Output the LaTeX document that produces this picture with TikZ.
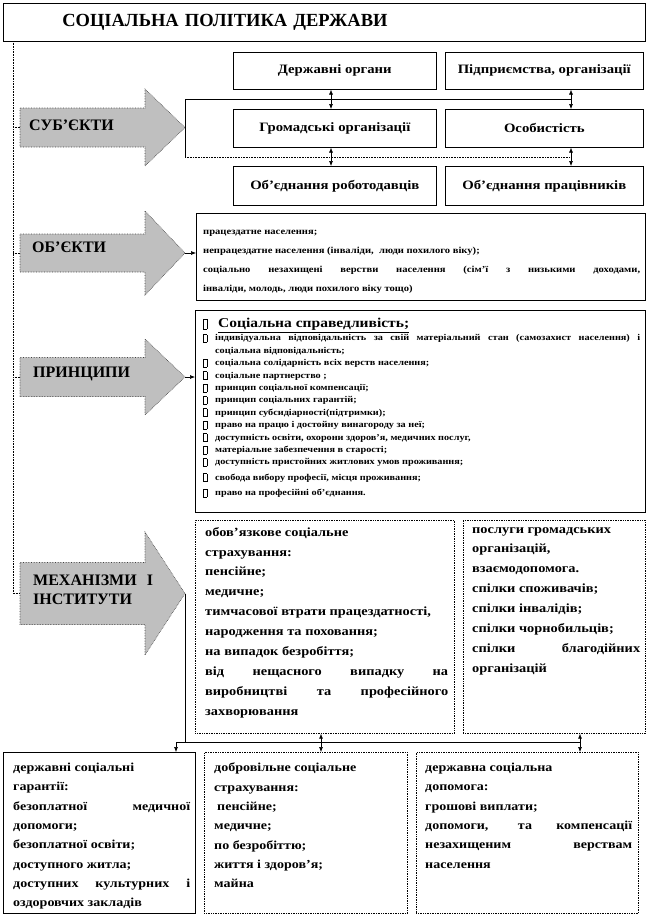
\documentclass[tikz,border=0pt]{standalone}
\usepackage{fontspec}
\setmainfont{Liberation Serif}[FakeStretch=1.15]
\newfontfamily\plainserif{Liberation Serif}
\usetikzlibrary{positioning, arrows.meta, calc}

\newcommand\bx[1][7pt]{\raisebox{-1pt}{\setlength\fboxsep{0pt}\setlength\fboxrule{0.9pt}\fbox{\rule{0pt}{#1}\hspace{2.4pt}}}}
\newcommand\pitem[1]{\par\noindent\hangindent=12pt\hangafter=1\makebox[12pt][l]{\bx}#1}

\begin{document}
\begin{tikzpicture}[
    x=1pt, y=-1pt,
    frame/.style={draw, line width=0.6pt, inner sep=0pt, anchor=north west},
    dotframe/.style={draw, densely dotted, line width=0.7pt, inner sep=0pt, anchor=north west},
    subjbox/.style={draw, line width=0.6pt, anchor=north west, inner sep=0pt,
                    font=\fontsize{12.8}{14}\selectfont\bfseries},
    bigarrow/.style={fill=black!25, draw=black!75, densely dotted, line width=0.6pt},
    alabel/.style={anchor=west, align=left, inner sep=0pt, font=\plainserif\fontsize{16}{19}\selectfont\bfseries},
    txt/.style={anchor=north west, inner sep=0pt, align=justify,
                font=\fontsize{12.5}{19.9}\selectfont\bfseries},
    arr/.style={-{Latex[length=5pt, width=4pt]}, line width=0.6pt},
    dbl/.style={{Latex[length=5pt, width=4pt]}-{Latex[length=5pt, width=4pt]}, line width=0.6pt},
    spine/.style={densely dotted, line width=0.6pt},
  ]
  \useasboundingbox (0,0) rectangle (649,918);

  % ── Title ──
  \node[draw, line width=0.6pt, anchor=north west, inner xsep=59pt, inner ysep=0pt,
        text width=524pt, minimum height=38pt, align=left,
        font=\plainserif\fontsize{18.5}{20}\selectfont\bfseries] (title) at (3,3) {СОЦІАЛЬНА ПОЛІТИКА ДЕРЖАВИ};

  % ── Block arrows ──
  \foreach \nm/\yc/\bh/\hh in {sub/127.5/19.5/38.5, obj/253/19/42, prn/377/19.5/38, mech/593.5/31/61.5}{
    \draw[bigarrow] (20,\yc-\bh) -- (145,\yc-\bh) -- (145,\yc-\hh) -- (185,\yc)
      -- (145,\yc+\hh) -- (145,\yc+\bh) -- (20,\yc+\bh) -- cycle;
    \coordinate (\nm-tip) at (185,\yc);
    \coordinate (\nm-tail) at (20,\yc);
  }
  \node[alabel] (sub) at (29,125.5) {СУБ’ЄКТИ};
  \node[alabel] (obj) at (32,247) {ОБ’ЄКТИ};
  \node[alabel] (prn) at (33,374) {ПРИНЦИПИ};
  \node[alabel] (mech) at (33,590) {МЕХАНІЗМИ\hspace{10pt}І\\ІНСТИТУТИ};

  % ── Spine ──
  \coordinate (spine) at (13,41);
  \draw[spine] (spine) |- (mech-tail);
  \foreach \nm in {sub,obj,prn}
    \draw[spine] (spine |- \nm-tail) -- (\nm-tail);

  % ── Subjects ──
  \node[subjbox, minimum width=203pt, minimum height=37pt] (gov) at (233,52) {Державні органи};
  \node[subjbox, minimum width=198pt, minimum height=37pt] (firm) at (445,52) {Підприємства, організації};
  \node[subjbox, minimum width=203pt, minimum height=38pt] (civ) at (233,109) {Громадські організації};
  \node[subjbox, minimum width=198pt, minimum height=38pt] (pers) at (445,109) {Особистість};
  \node[subjbox, minimum width=203pt, minimum height=39pt] (empl) at (233,166) {Об'єднання роботодавців};
  \node[subjbox, minimum width=198pt, minimum height=39pt] (work) at (445,166) {Об'єднання працівників};

  \coordinate (fr-tl) at (185,99);
  \coordinate (fr-bl) at (185,157);
  \coordinate (colA) at (331,0);
  \coordinate (colB) at (571,0);
  \draw[line width=0.6pt] (fr-tl -| colB) -- (fr-tl) -- (fr-bl);
  \draw[spine] (fr-bl) -- (fr-bl -| colB);

  \draw[dbl] (gov.south -| colA) -- (civ.north -| colA);
  \draw[dbl] (firm.south -| colB) -- (pers.north -| colB);
  \draw[dbl] (civ.south -| colA) -- (empl.north -| colA);
  \draw[dbl] (pers.south -| colB) -- (work.north -| colB);

  % ── Objects ──
  \node[frame, minimum width=449pt, minimum height=87pt] (objbox) at (196,213) {};
  \node[txt, text width=437pt, font=\fontsize{9.2}{19}\selectfont\bfseries] (objtxt) at (203,229.5)
    {працездатне населення;\\
     непрацездатне населення (інваліди,~ люди похилого віку);\\
     соціально незахищені верстви населення (сім'ї з низькими доходами,\linebreak
     інваліди, молодь, люди похилого віку тощо)};
  \draw[arr] (obj-tip) -- (obj-tip -| objbox.west);

  % ── Principles ──
  \node[frame, minimum width=450pt, minimum height=202pt] (prnbox) at (195,310) {};
  \node[txt, text width=437pt, font=\fontsize{8.9}{12.4}\selectfont\bfseries] (prntxt) at (203,318)
    {\noindent\makebox[15pt][l]{\bx[9pt]}{\fontsize{13.5}{15}\selectfont\underline{Соціальна справедливість;}}\par\vspace{1pt}
     \pitem{індивідуальна відповідальність за свій матеріальний стан (самозахист населення) і\linebreak соціальна відповідальність;}
     \pitem{соціальна солідарність всіх верств населення;}
     \pitem{соціальне партнерство ;}
     \pitem{принцип соціальної компенсації;}
     \pitem{принцип соціальних гарантій;}
     \pitem{принцип субсидіарності(підтримки);}
     \pitem{право на працю і достойну винагороду за неї;}
     \pitem{доступність освіти, охорони здоров'я, медичних послуг,}
     \pitem{матеріальне забезпечення в старості;}
     \pitem{доступність пристойних житлових умов проживання;}
     \par\vspace{3pt}\pitem{свобода вибору професії, місця проживання;}
     \par\vspace{3pt}\pitem{право на професійні об'єднання.}};
  \draw[arr] (prn-tip) -- (prn-tip -| prnbox.west);

  % ── Mechanisms ──
  \node[dotframe, minimum width=259pt, minimum height=213pt] (mechL) at (195,520) {};
  \node[dotframe, minimum width=182pt, minimum height=213pt] (mechR) at (463,520) {};
  \node[txt, text width=243pt] (mechLtxt) at (205,527)
    {обов'язкове соціальне\\
     страхування:\\
     пенсійне;\\
     медичне;\\
     тимчасової втрати працездатності,\\
     народження та поховання;\\
     на випадок безробіття;\\
     від нещасного випадку на\linebreak виробництві та професійного\linebreak захворювання};
  \node[txt, text width=168pt] (mechRtxt) at (472,527)
    {послуги громадських\\
     організацій,\\
     взаємодопомога.\\
     спілки споживачів;\\
     спілки інвалідів;\\
     спілки чорнобильців;\\
     спілки благодійних\linebreak організацій};

  % ── Bottom row ──
  \node[frame, minimum width=192pt, minimum height=161pt] (g1) at (3,752) {};
  \node[dotframe, minimum width=203pt, minimum height=161pt] (g2) at (204,752) {};
  \node[dotframe, minimum width=222pt, minimum height=161pt] (g3) at (416,752) {};
  \node[txt, text width=177pt, font=\fontsize{12.2}{19.3}\selectfont\bfseries] (g1txt) at (13,763)
    {державні соціальні\\
     гарантії:\\
     безоплатної медичної\linebreak допомоги;\\
     безоплатної освіти;\\
     доступного житла;\\
     доступних культурних і\linebreak оздоровчих закладів};
  \node[txt, text width=186pt, font=\fontsize{12.2}{19.3}\selectfont\bfseries] (g2txt) at (214,763)
    {добровільне соціальне\\
     страхування:\\
     \hspace*{3pt}пенсійне;\\
     медичне;\\
     по безробіттю;\\
     життя і здоров'я;\\
     майна};
  \node[txt, text width=207pt, font=\fontsize{12.2}{19.3}\selectfont\bfseries] (g3txt) at (425,763)
    {державна соціальна\\
     допомога:\\
     грошові виплати;\\
     допомоги, та компенсації\linebreak незахищеним верствам\linebreak населення};

  % ── Connectors ──
  \coordinate (bus-l) at (176,742);
  \coordinate (bus-r) at (580,742);
  \coordinate (colC) at (321,0);
  \draw[line width=0.6pt] (mech-tip) -- (mech-tip |- bus-l);
  \draw[line width=0.6pt] (bus-l) -- (bus-r);
  \draw[arr] (bus-l) -- (bus-l |- g1.north);
  \draw[dbl] (mechL.south -| colC) -- (g2.north -| colC);
  \draw[dbl] (mechR.south -| bus-r) -- (g3.north -| bus-r);

\end{tikzpicture}
\end{document}
